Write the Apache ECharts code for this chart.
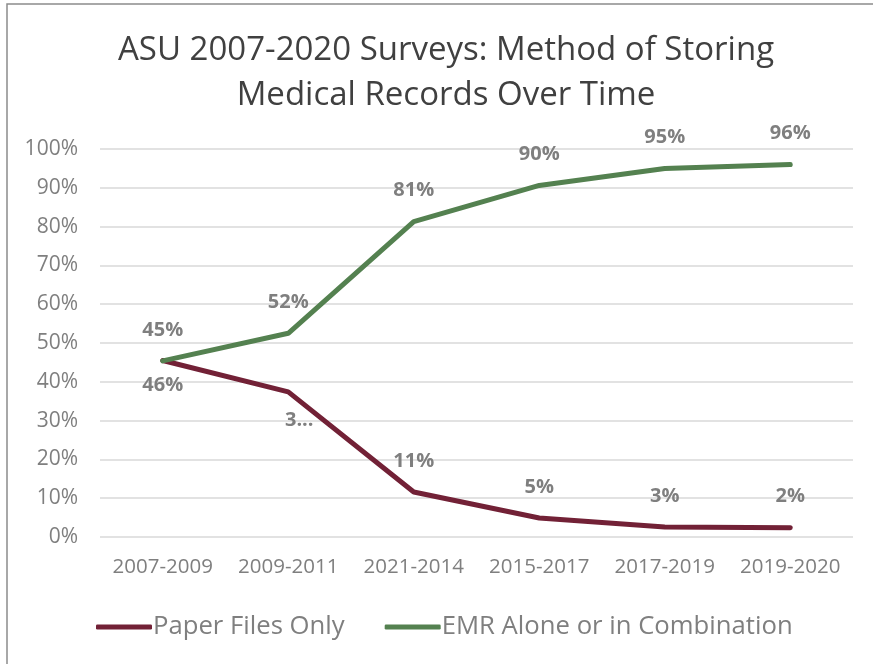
<!DOCTYPE html>
<html>
<head>
  <meta charset="utf-8">
  <title>ASU Surveys</title>
  <style>
    body { margin: 0; background: #fff; }
    #chart { width: 873px; height: 664px; }
  </style>
</head>
<body>
  <div id="chart"></div>
</body>
<script src="https://cdn.jsdelivr.net/npm/echarts@6/dist/echarts.min.js"></script>
<script>
  var categories = ['2007-2009', '2009-2011', '2021-2014', '2015-2017', '2017-2019', '2019-2020'];
  var paperValues = [45.5, 37.4, 11.6, 4.9, 2.6, 2.4];
  var paperLabels = ['46%', '3...', '11%', '5%', '3%', '2%'];
  var emrValues = [45.4, 52.5, 81.3, 90.6, 95.0, 96.0];
  var emrLabels = ['45%', '52%', '81%', '90%', '95%', '96%'];
  var yTicks = [0, 10, 20, 30, 40, 50, 60, 70, 80, 90, 100];

  var font = '"Open Sans", "Noto Sans", sans-serif';
  var labelStyle = { show: true, fontFamily: font, fontSize: 20, fontWeight: 'bold', color: '#7f7f7f' };

  var chart = echarts.init(document.getElementById('chart'));

  // labels sit above the line, except the few listed in "below"
  function buildData(values, labels, below) {
    return values.map(function (v, i) {
      var isBelow = below.indexOf(i) != -1;
      return {
        value: v,
        label: {
          show: true,
          position: isBelow ? 'bottom' : 'top',
          distance: isBelow ? 15 : 21,
          offset: (i == 1 && isBelow) ? [11, 3] : [0, 0],
          formatter: labels[i]
        }
      };
    });
  }

  var option = {
    backgroundColor: '#fff',
    animation: false,
    title: {
      text: 'ASU 2007-2020 Surveys: Method of Storing\nMedical Records Over Time',
      left: 441,
      textAlign: 'center',
      top: 23,
      textStyle: { fontFamily: font, fontSize: 33, fontWeight: 'normal', color: '#404040', lineHeight: 45 }
    },
    graphic: [{
      type: 'rect',
      shape: { x: 7, y: 4, width: 900, height: 700 },
      style: { fill: 'none', stroke: '#8c8c8c', lineWidth: 1.5 },
      silent: true
    }],
    grid: { left: 100, right: 20, top: 149, bottom: 127 },
    legend: {
      bottom: 19,
      left: 91,
      itemWidth: 56,
      itemHeight: 5,
      itemGap: 40,
      icon: 'roundRect',
      textStyle: { fontFamily: font, fontSize: 25.7, color: '#7f7f7f', padding: [0, 0, 0, -4] },
      data: ['Paper Files Only', 'EMR Alone or in Combination']
    },
    xAxis: {
      type: 'category',
      data: categories,
      boundaryGap: true,
      axisLine: { show: false },
      axisTick: { show: false },
      axisLabel: { fontFamily: font, fontSize: 20.5, color: '#7f7f7f', margin: 20, interval: 0 }
    },
    yAxis: {
      type: 'value',
      min: yTicks[0],
      max: yTicks[yTicks.length - 1],
      interval: 10,
      axisLine: { show: false },
      axisTick: { show: false },
      splitLine: { lineStyle: { color: '#d9d9d9', width: 1.5 } },
      axisLabel: { fontFamily: font, fontSize: 21, color: '#7f7f7f', margin: 22, formatter: '{value}%' }
    },
    series: [{
      name: 'Paper Files Only',
      type: 'line',
      symbol: 'circle',
      symbolSize: 0.1,
      data: buildData(paperValues, paperLabels, [0, 1]),
      lineStyle: { color: '#722136', width: 5, cap: 'round' },
      itemStyle: { color: '#722136' },
      label: labelStyle
    }, {
      name: 'EMR Alone or in Combination',
      type: 'line',
      symbol: 'circle',
      symbolSize: 0.1,
      data: buildData(emrValues, emrLabels, []),
      lineStyle: { color: '#548150', width: 5, cap: 'round' },
      itemStyle: { color: '#548150' },
      label: labelStyle
    }]
  };
  chart.setOption(option);
</script>
</html>
